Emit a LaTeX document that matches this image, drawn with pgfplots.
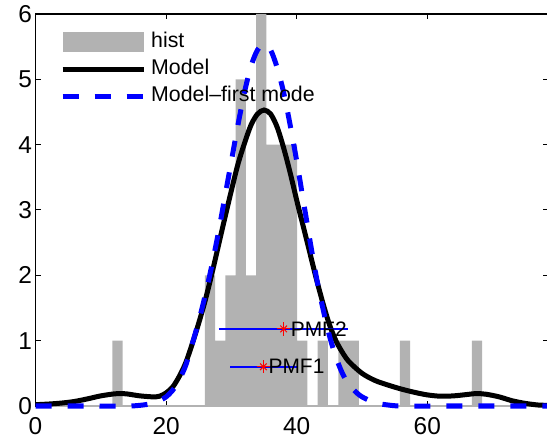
\documentclass[border=0pt]{standalone}
\usepackage{fontspec}
\setmainfont{Liberation Sans}
\usepackage{pgfplots}
\pgfplotsset{compat=1.18}
\definecolor{histgray}{rgb}{0.7,0.7,0.7}
\definecolor{pureblue}{rgb}{0,0,1}
\pgfplotsset{
  linelegend/.style={legend image code/.code={\draw[##1] (0bp,0bp) -- (81bp,0bp);}},
  histlegend/.style={legend image code/.code={\fill[histgray] (0bp,-10bp) rectangle (81bp,10bp);}},
}
\begin{document}
\begin{tikzpicture}
\begin{axis}[
  scale only axis, width=512.6bp, height=392bp,
  xmin=0, xmax=78.5, ymin=0, ymax=6,
  xtick={0,20,40,60}, ytick={0,1,2,3,4,5,6},
  tick align=inside, major tick length=5bp,
  axis line style={line width=1.2bp},
  every tick/.style={black, line width=1bp},
  tick label style={font=\fontsize{24.5}{28}\selectfont},
  xticklabel style={yshift=-7.5bp},
  /pgf/number format/assume math mode=true,
  clip=false,
  unbounded coords=jump,
  legend cell align=left,
  legend style={at={(axis description cs:0.0482,0.957)}, anchor=north west,
    draw=none, fill=none, inner sep=0pt, outer sep=0pt,
    font=\fontsize{21.4}{25}\selectfont, row sep=4bp, column sep=3bp,
    nodes={inner sep=2bp, text height=15bp, text depth=4bp}},
]
% histogram
\addplot[fill=histgray, draw=none, const plot, histlegend]
  coordinates {(11.76,1) (13.33,0) (25.92,2) (27.49,1) (29.06,2) (30.64,5) (32.21,2)
  (33.78,6) (35.36,4) (40.07,1) (41.65,0) (43.22,1) (44.79,0) (46.37,1) (49.51,0)
  (55.80,1) (57.38,0) (66.82,1) (68.39,1)} \closedcycle;
\addlegendentry{hist}
% baseline
\addplot[histgray, line width=2bp, forget plot] coordinates {(0,0) (78.5,0)};
% model
\addplot[black, line width=5bp, smooth, tension=0.5, linelegend]
  coordinates {(0,0.02) (2,0.03) (4,0.045) (6,0.07) (8,0.11) (10,0.155) (12,0.185)
  (13,0.19) (14,0.185) (16,0.155) (18,0.14) (19,0.15) (20,0.2) (21,0.29) (22,0.45)
  (23,0.66) (24,0.95) (25,1.27) (26,1.62) (27,2.02) (28,2.45) (29,2.88) (30,3.3)
  (31,3.7) (32,4.02) (33,4.3) (34,4.47) (35,4.53) (36,4.47) (37,4.27) (38,3.95)
  (39,3.57) (40,3.15) (41,2.75) (42,2.35) (43,1.95) (44,1.58) (45,1.25) (46,1.0)
  (47,0.82) (48,0.68) (50,0.5) (52,0.39) (54,0.32) (56,0.26) (58,0.21) (60,0.17)
  (62,0.15) (64,0.155) (66,0.175) (67.5,0.19) (69,0.18) (71,0.14) (73,0.08)
  (75,0.04) (77,0.015) (78.5,0.01)};
\addlegendentry{Model}
% first mode
\addplot[pureblue, line width=5bp, dash pattern=on 16bp off 16bp, smooth, tension=0.5, linelegend]
  coordinates {(0,0) (8,0) (14,0) (16,0.01) (18,0.04) (19,0.08) (20,0.14) (21,0.24)
  (22,0.4) (23,0.62) (24,0.95) (25,1.3) (26,1.7) (27,2.15) (28,2.65) (29,3.2)
  (30,3.75) (31,4.3) (32,4.8) (33,5.2) (34,5.45) (35,5.53) (36,5.45) (37,5.18)
  (38,4.8) (39,4.3) (40,3.75) (41,3.15) (42,2.55) (43,1.98) (44,1.5) (45,1.08)
  (46,0.75) (47,0.5) (48,0.33) (49,0.22) (50,0.14) (52,0.05) (54,0.015) (56,0)
  (62,0) (70,0) (78.5,0)};
\addlegendentry{Model--first mode}
% PMF bars
\addplot[color=pureblue, line width=1.6bp, forget plot]
  coordinates {(28.1,1.18) (47.9,1.18) (nan,nan) (29.8,0.6) (40.0,0.6)};
\addplot[red, only marks, mark=+, mark size=6.7bp, mark options={draw=red, line width=1bp}, forget plot]
  coordinates {(38.0,1.18) (34.9,0.6)};
\addplot[red, only marks, mark=x, mark size=4.7bp, mark options={draw=red, line width=1bp}, forget plot]
  coordinates {(38.0,1.18) (34.9,0.6)};
\node[anchor=west, inner sep=0pt, xshift=7bp, font=\fontsize{21}{25}\selectfont] at (axis cs:38.0,1.18) {PMF2};
\node[anchor=west, inner sep=0pt, xshift=5bp, font=\fontsize{21}{25}\selectfont] at (axis cs:34.9,0.6) {PMF1};
\end{axis}
\pgfresetboundingbox
\path[use as bounding box] (-35.5bp,-42bp) rectangle (511.5bp,406bp);
\end{tikzpicture}
\end{document}
